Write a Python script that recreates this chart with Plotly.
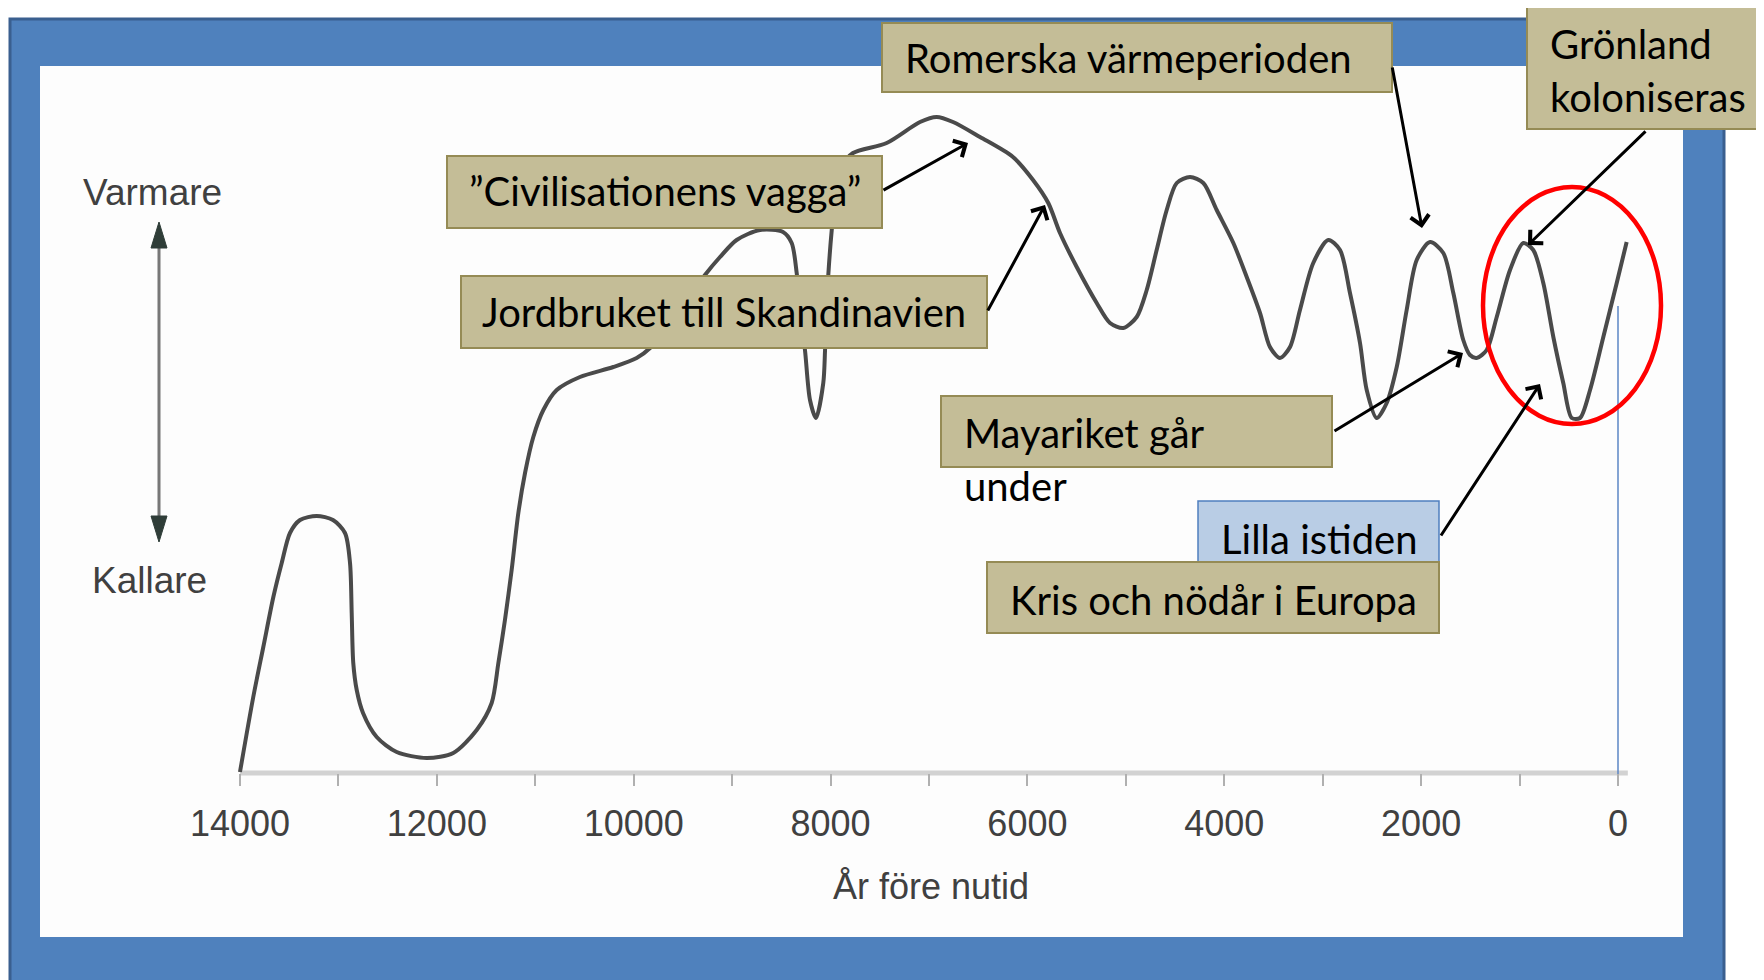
import plotly.graph_objects as go

# page body has an 8px margin: figure is placed at (8, 8) in the window
OFF = 8
W, H = 1756, 972

# ---------------- data (years before present, relative temperature) -------------
years = [14000, 13865, 13763, 13661, 13576, 13492, 13390, 13221, 13055, 12933,
         12882, 12865, 12849, 12814, 12750, 12611, 12408, 12103, 11833, 11595,
         11443, 11375, 11308, 11240, 11172, 11104, 11020, 10918, 10782, 10546,
         10207, 9970, 9834, 9530, 9276, 9123, 8954, 8717, 8483, 8395,
         8344, 8300, 8260, 8209, 8148, 8074, 8056, 8036, 8023, 7988,
         7945, 7874, 7772, 7430, 7091, 6922, 6756, 6482, 6147, 5943,
         5788, 5669, 5499, 5296, 5161, 5026, 4890, 4788, 4687, 4585,
         4483, 4348, 4213, 4077, 3908, 3772, 3637, 3536, 3434, 3332,
         3231, 3096, 2943, 2824, 2723, 2621, 2553, 2452, 2350, 2248,
         2147, 2045, 1910, 1775, 1673, 1572, 1504, 1436, 1334, 1232,
         1097, 962, 861, 759, 657, 556, 470, 386, 284, 149,
         13, -88]
temps = [0.1, 7.6, 12.6, 17.6, 21.0, 24.0, 25.3, 25.7, 25.3, 24.0,
         21.0, 16.0, 11.0, 8.3, 6.0, 3.6, 2.1, 1.5, 2.0, 4.3,
         7.0, 11.0, 15.3, 20.3, 26.0, 30.0, 33.6, 36.3, 38.3, 39.6,
         40.6, 41.5, 42.5, 46.3, 49.8, 51.6, 53.3, 54.3, 54.1, 53.0,
         50.0, 45.3, 42.3, 37.3, 35.5, 39.0, 42.3, 47.3, 49.8, 54.3,
         58.3, 60.8, 62.0, 63.0, 65.1, 65.6, 65.1, 63.6, 61.6, 59.3,
         57.0, 54.0, 50.6, 47.0, 45.0, 44.5, 45.6, 48.3, 52.3, 56.3,
         59.0, 59.6, 59.0, 56.3, 53.0, 49.6, 46.0, 42.6, 41.5, 42.6,
         46.3, 51.0, 53.3, 52.3, 48.0, 43.0, 38.3, 35.5, 37.0, 40.6,
         46.3, 51.3, 53.1, 52.0, 48.0, 43.3, 41.8, 41.5, 42.3, 45.6,
         50.3, 53.0, 52.3, 49.0, 43.6, 39.0, 35.5, 35.5, 38.3, 43.6,
         49.0, 53.1]

tick_years = list(range(0, 14001, 1000))
tick_labels = [str(v) if v % 2000 == 0 else "" for v in tick_years]

x_title = "År före nutid"
warm_label = "Varmare"
cold_label = "Kallare"

# ---------------- geometry (window pixel coordinates) ----------------
X0_PX = 1618.0        # window pixel of year 0
PX_PER_YR = 0.09843
Y0_PX = 773.0         # window pixel of temp 0 (axis line)
PX_PER_UNIT = 10.0

x_range = [(X0_PX - OFF) / PX_PER_YR, (X0_PX - OFF - W) / PX_PER_YR]
y_range = [((Y0_PX - OFF) - H) / PX_PER_UNIT, (Y0_PX - OFF) / PX_PER_UNIT]


def px(x):
    return (x - OFF) / W


def py(y):
    return 1 - (y - OFF) / H


shapes = []


def rect(x0, y0, x1, y1, fill, line, lw, layer="above"):
    shapes.append(dict(type="rect", xref="paper", yref="paper",
                       x0=px(x0), x1=px(x1), y0=py(y1), y1=py(y0),
                       fillcolor=fill, line=dict(color=line, width=lw),
                       layer=layer))


# frame
rect(10, 19, 1724, 990, "#4f81bd", "#3a5f8f", 3, layer="below")
rect(40, 66, 1683, 937, "#fdfdfd", "#fdfdfd", 0, layer="below")

# axis line
shapes.append(dict(type="line", xref="x", yref="y", x0=14000, x1=-100, y0=0, y1=0,
                   line=dict(color="#d2d2d2", width=5), layer="below"))
# thin blue line at year 0
shapes.append(dict(type="line", xref="x", yref="y", x0=0, x1=0, y0=46.7, y1=-0.4,
                   line=dict(color="#5b86c4", width=1.5), layer="below"))

# double vertical arrow (Varmare / Kallare)
ax_x = 159
shapes.append(dict(type="line", xref="paper", yref="paper", x0=px(ax_x), x1=px(ax_x),
                   y0=py(240), y1=py(526), line=dict(color="#777777", width=3), layer="above"))


def tri(tipx, tipy, basey, half):
    return (f"M {px(tipx)},{py(tipy)} L {px(tipx-half)},{py(basey)} "
            f"L {px(tipx+half)},{py(basey)} Z")


shapes.append(dict(type="path", xref="paper", yref="paper", path=tri(ax_x, 222, 248, 8),
                   fillcolor="#2f3d38", line=dict(color="#2f3d38", width=1), layer="above"))
shapes.append(dict(type="path", xref="paper", yref="paper", path=tri(ax_x, 542, 516, 8),
                   fillcolor="#2f3d38", line=dict(color="#2f3d38", width=1), layer="above"))

# callout boxes
TAN, TAN_LINE = "#c4bd97", "#958b55"
rect(882, 23, 1392, 92, TAN, TAN_LINE, 2)        # Romerska
rect(1527, 6, 1775, 129, TAN, TAN_LINE, 2)       # Grönland
rect(447, 156, 882, 228, TAN, TAN_LINE, 2)       # Civilisationens vagga
rect(461, 276, 987, 348, TAN, TAN_LINE, 2)       # Jordbruket
rect(941, 396, 1332, 467, TAN, TAN_LINE, 2)      # Mayariket
rect(1198, 501, 1439, 570, "#b9cde5", "#4f7fbf", 1.5)  # Lilla istiden
rect(987, 562, 1439, 633, TAN, TAN_LINE, 2)      # Kris

# red ellipse
shapes.append(dict(type="circle", xref="paper", yref="paper",
                   x0=px(1483), x1=px(1661), y0=py(424), y1=py(187),
                   line=dict(color="#ff0000", width=4.5), fillcolor="rgba(0,0,0,0)",
                   layer="above"))

annotations = []
CAL = "Lato, Carlito, Calibri, sans-serif"
ARI = "Liberation Sans, Arial, sans-serif"


def label(text, x, y, size=40, family=CAL, color="black", anchor="left"):
    annotations.append(dict(text=text, x=px(x), y=py(y), xref="paper", yref="paper",
                            xanchor=anchor, yanchor="middle", showarrow=False,
                            font=dict(family=family, size=size, color=color)))


def arrow(tailx, taily, tipx, tipy):
    annotations.append(dict(text="", x=px(tipx), y=py(tipy), xref="paper", yref="paper",
                            ax=tailx - tipx, ay=taily - tipy, showarrow=True,
                            arrowhead=4, arrowsize=1.2, arrowwidth=3, arrowcolor="black",
                            standoff=0, startstandoff=0))


label("Romerska värmeperioden", 903, 58)
label("Grönland", 1548, 44)
label("koloniseras", 1548, 97)
label("”Civilisationens vagga”", 467, 191)
label("Jordbruket till Skandinavien", 480, 312)
label("Mayariket går", 962, 433)
label("under", 962, 486)
label("Lilla istiden", 1219, 539)
label("Kris och nödår i Europa", 1008, 600)

label(warm_label, 152, 192, size=37, family=ARI, color="#404040", anchor="center")
label(cold_label, 149, 580, size=37, family=ARI, color="#404040", anchor="center")
label(x_title, 931, 886, size=36, family=ARI, color="#404040", anchor="center")

arrow(882, 191, 968, 143)
arrow(987, 312, 1045, 205)
arrow(1392, 66, 1422, 228)
arrow(1647, 130, 1528, 245)
arrow(1333, 432, 1463, 353)
arrow(1440, 537, 1540, 384)

fig = go.Figure()
fig.add_trace(go.Scatter(x=years, y=temps, mode="lines",
                         line=dict(color="#4a4a4a", width=4, shape="spline", smoothing=0.8),
                         hoverinfo="skip"))

fig.update_layout(
    width=W, height=H,
    margin=dict(l=0, r=0, t=0, b=0),
    paper_bgcolor="white",
    plot_bgcolor="rgba(0,0,0,0)",
    showlegend=False,
    shapes=shapes,
    annotations=annotations,
    xaxis=dict(range=x_range, domain=[0, 1], anchor="free", position=1 - (Y0_PX - OFF) / H,
               showgrid=False, zeroline=False, showline=False,
               tickmode="array", tickvals=tick_years, ticktext=tick_labels,
               ticks="outside", ticklen=12, tickwidth=2, tickcolor="#b0b0b0",
               ticklabelstandoff=7,
               tickfont=dict(family=ARI, size=36, color="#404040")),
    yaxis=dict(range=y_range, domain=[0, 1], visible=False),
)

fig.write_html("out.html")
